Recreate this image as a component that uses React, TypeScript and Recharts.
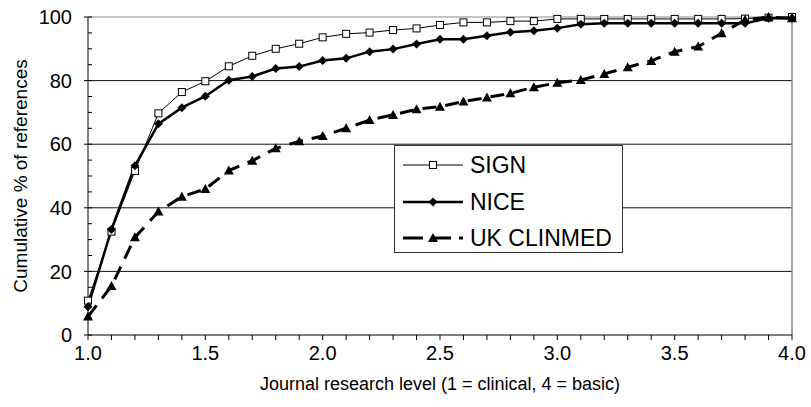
import React from 'react';
import { LineChart, Line, XAxis, YAxis, ReferenceLine } from 'recharts';

const LEVELS = [1.0, 1.1, 1.2, 1.3, 1.4, 1.5, 1.6, 1.7, 1.8, 1.9, 2.0, 2.1, 2.2, 2.3, 2.4, 2.5, 2.6, 2.7, 2.8, 2.9, 3.0, 3.1, 3.2, 3.3, 3.4, 3.5, 3.6, 3.7, 3.8, 3.9, 4.0];
const SIGN = [10.8, 32.5, 51.6, 69.7, 76.4, 79.8, 84.5, 87.8, 90.0, 91.6, 93.6, 94.7, 95.1, 95.9, 96.4, 97.5, 98.3, 98.3, 98.7, 98.7, 99.4, 99.4, 99.4, 99.4, 99.4, 99.4, 99.4, 99.4, 99.5, 99.8, 100];
const NICE = [8.9, 33.2, 53.2, 66.4, 71.5, 75.1, 80.1, 81.3, 83.8, 84.4, 86.3, 87.0, 89.1, 89.9, 91.5, 93.0, 93.0, 94.1, 95.2, 95.7, 96.5, 97.7, 98.0, 98.0, 98.0, 98.0, 98.0, 98.0, 98.0, 99.6, 99.6];
const CLINMED = [5.8, 15.4, 30.7, 38.8, 43.5, 45.9, 51.7, 54.8, 58.7, 60.9, 62.6, 65.0, 67.6, 69.2, 71.0, 71.8, 73.4, 74.7, 76.0, 77.9, 79.3, 80.2, 82.1, 84.2, 86.2, 89.1, 90.7, 94.9, 99.1, 100, 99.6];
const Y_TICKS = [0, 5, 10, 15, 20, 25, 30, 35, 40, 45, 50, 55, 60, 65, 70, 75, 80, 85, 90, 95, 100];
const GRID_Y = [20, 40, 60, 80];

const data = LEVELS.map((x, i) => ({ x, sign: SIGN[i], nice: NICE[i], clinmed: CLINMED[i] }));

const FONT = '"Liberation Sans", Arial, sans-serif';

const Square = ({ cx, cy }: any) => (
  <rect x={cx - 3.5} y={cy - 3.5} width={7} height={7} fill="#fff" stroke="#000" strokeWidth={1} />
);
const Diamond = ({ cx, cy }: any) => (
  <polygon points={`${cx},${cy - 4.5} ${cx + 4.5},${cy} ${cx},${cy + 4.5} ${cx - 4.5},${cy}`} fill="#000" />
);
const Triangle = ({ cx, cy }: any) => (
  <polygon points={`${cx},${cy - 5} ${cx + 5},${cy + 4} ${cx - 5},${cy + 4}`} fill="#000" />
);

const XTick = ({ x, y, payload }: any) => {
  const major = Math.round(payload.value * 10) % 5 === 0;
  return (
    <g>
      <line x1={x} x2={x} y1={y} y2={y + 5} stroke="#000" />
      {major && (
        <text x={x} y={y + 25} textAnchor="middle" fontSize={20} fontFamily={FONT} fill="#000">
          {payload.value.toFixed(1)}
        </text>
      )}
    </g>
  );
};

const YTick = ({ x, y, payload }: any) => {
  const major = payload.value % 20 === 0;
  return (
    <g>
      <line x1={major ? x - 4 : x} x2={x + 4} y1={y} y2={y} stroke="#000" />
      {major && (
        <text x={x - 16} y={y} dy="0.36em" textAnchor="end" fontSize={20} fontFamily={FONT} fill="#000">
          {payload.value}
        </text>
      )}
    </g>
  );
};

const LegendBox = () => {
  const rows = [
    { name: 'SIGN', y: 19, w: 1, dash: undefined, Mark: Square },
    { name: 'NICE', y: 56, w: 2.5, dash: undefined, Mark: Diamond },
    { name: 'UK CLINMED', y: 92, w: 3, dash: '20 8', Mark: Triangle },
  ];
  return (
    <svg width={229} height={108} style={{ display: 'block', background: '#fff', border: '1px solid #333', boxSizing: 'border-box' }}>
      {rows.map(({ name, y, w, dash, Mark }) => (
        <g key={name}>
          <line x1={8} x2={68} y1={y} y2={y} stroke="#000" strokeWidth={w} strokeDasharray={dash} />
          <Mark cx={38} cy={y} />
          <text x={75} y={y} dy="0.36em" fontSize={23} fontFamily={FONT} fill="#000">{name}</text>
        </g>
      ))}
    </svg>
  );
};

export default function App() {
  return (
    <div style={{ position: 'absolute', left: 0, top: 0, width: 811, height: 407, background: '#fff' }}>
      <LineChart width={811} height={407} data={data} margin={{ top: 17, right: 19, bottom: 0, left: 0 }}>
        {GRID_Y.map(v => (
          <ReferenceLine key={v} y={v} stroke="#111" strokeWidth={1} />
        ))}
        <ReferenceLine y={100} stroke="#888" strokeWidth={1} />
        <ReferenceLine x={4} stroke="#888" strokeWidth={1.5} />
        <XAxis
          dataKey="x"
          type="number"
          domain={[1, 4]}
          ticks={LEVELS}
          interval={0}
          height={72}
          stroke="#000"
          tickLine={false}
          tickSize={0}
          tickMargin={0}
          tick={<XTick />}
          label={{ value: 'Journal research level (1 = clinical, 4 = basic)', position: 'insideBottom', offset: 17, style: { fontSize: 18, fontFamily: FONT, fill: '#000' } }}
        />
        <YAxis
          type="number"
          domain={[0, 100]}
          ticks={Y_TICKS}
          interval={0}
          width={88}
          stroke="#000"
          tickLine={false}
          tickSize={0}
          tickMargin={0}
          tick={<YTick />}
          label={{ value: 'Cumulative % of references', angle: -90, position: 'insideLeft', offset: 20, style: { textAnchor: 'middle', fontSize: 19, fontFamily: FONT, fill: '#000' } }}
        />
        <Line dataKey="sign" stroke="#000" strokeWidth={1} dot={<Square />} activeDot={false} isAnimationActive={false} />
        <Line dataKey="nice" stroke="#000" strokeWidth={2.5} dot={<Diamond />} activeDot={false} isAnimationActive={false} />
        <Line dataKey="clinmed" stroke="#000" strokeWidth={3} strokeDasharray="14 9" dot={<Triangle />} activeDot={false} isAnimationActive={false} />
      </LineChart>
      <div style={{ position: 'absolute', left: 394, top: 145 }}>
        <LegendBox />
      </div>
    </div>
  );
}
